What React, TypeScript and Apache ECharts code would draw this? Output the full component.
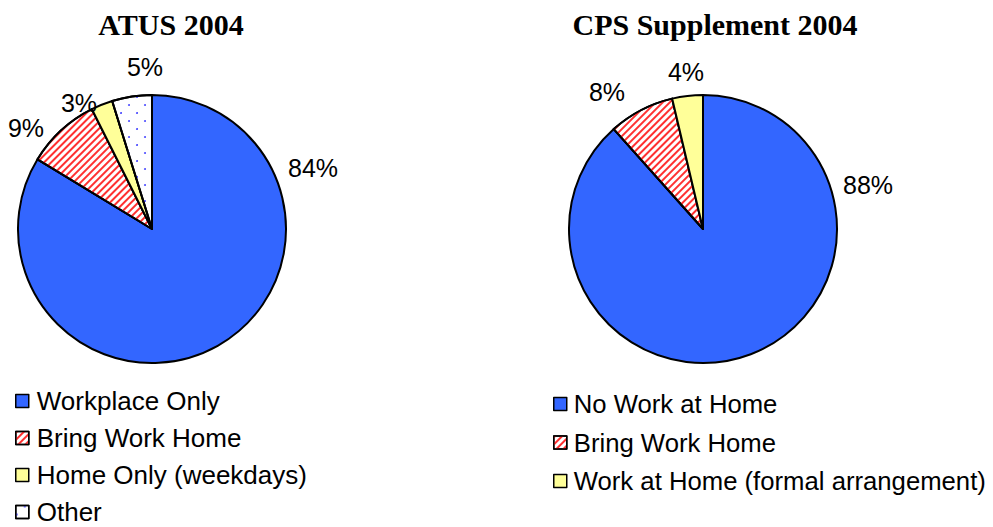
import React, { useEffect, useRef } from "react";
import * as echarts from "echarts";

const atusCategories = ["Workplace Only", "Bring Work Home", "Home Only (weekdays)", "Other"];
const atusValues = [83.7, 8.9, 2.6, 4.8];
const cpsCategories = ["No Work at Home", "Bring Work Home", "Work at Home (formal arrangement)"];
const cpsValues = [88.4, 7.9, 3.7];
const titles = ["ATUS 2004", "CPS Supplement 2004"];

// label anchor points (pixels) for each slice's percentage text
const atusLabelAnchors = [[313, 168], [26, 128], [79, 103], [145, 67]];
const cpsLabelAnchors = [[868, 185], [607, 92], [686, 72]];

const BLUE = "#3366FF";
const YELLOW = "#FFFF99";
const SANS = "'Liberation Sans', Arial, sans-serif";
const SERIF = "'Liberation Serif', 'Times New Roman', serif";

const hatchStyle = {
  color: "#ffffff",
  decal: {
    symbol: "rect",
    symbolSize: 1,
    dashArrayX: [1, 0],
    dashArrayY: [1.6, 2.4],
    rotation: -Math.PI / 4,
    color: "#ff3030",
  },
};
const dotStyle = {
  color: "#ffffff",
  decal: {
    symbol: "circle",
    symbolSize: 0.9,
    dashArrayX: [[2, 14], [0, 8, 2, 6]],
    dashArrayY: [2, 6],
    rotation: 0,
    color: "#3333ff",
  },
};

function styleFor(name: string) {
  if (name === "Bring Work Home") return hatchStyle;
  if (name === "Other") return dotStyle;
  if (name === "Home Only (weekdays)" || name === "Work at Home (formal arrangement)")
    return { color: YELLOW };
  return { color: BLUE };
}

export default function App() {
  const ref = useRef<HTMLDivElement>(null);
  useEffect(() => {
    document.body.style.margin = "0";
    const chart = echarts.init(ref.current!, null, { renderer: "svg" });
    const makeSeries = (
      cats: string[],
      vals: number[],
      center: number[],
      anchors: number[][]
    ) => ({
      type: "pie",
      center,
      radius: 134,
      startAngle: 90,
      clockwise: true,
      avoidLabelOverlap: false,
      itemStyle: { borderColor: "#000", borderWidth: 2 },
      emphasis: { disabled: true },
      label: {
        show: true,
        position: "outside",
        formatter: (p: any) => Math.round(p.value) + "%",
        fontFamily: SANS,
        fontSize: 25,
        color: "#000",
      },
      labelLine: { show: false, length: 10, length2: 0 },
      labelLayout: (p: any) => {
        const a = anchors[p.dataIndex];
        return { x: a[0], y: a[1], align: "center", verticalAlign: "middle" };
      },
      data: cats.map((c, i) => ({ name: c, value: vals[i], itemStyle: styleFor(c) })),
    });
    const legendCommon = {
      orient: "vertical",
      itemWidth: 13,
      itemHeight: 13,
      padding: 0,
      height: 150,
      icon: "rect",
      selectedMode: false,
      textStyle: {
        fontFamily: SANS,
        fontSize: 26,
        lineHeight: 26,
        color: "#000",
        padding: [0, 0, 0, 3],
      },
      itemStyle: { borderColor: "#000", borderWidth: 1.5 },
    };
    chart.setOption({
      animation: false,
      backgroundColor: "#fff",
      title: [
        {
          text: titles[0],
          left: 166,
          top: 4,
          textAlign: "center",
          textStyle: { fontFamily: SERIF, fontWeight: "bold", fontSize: 30, color: "#000" },
        },
        {
          text: titles[1],
          left: 710,
          top: 4,
          textAlign: "center",
          textStyle: { fontFamily: SERIF, fontWeight: "bold", fontSize: 30, color: "#000" },
        },
      ],
      legend: [
        { ...legendCommon, data: atusCategories, left: 15, top: 388, itemGap: 11 },
        {
          ...legendCommon,
          data: cpsCategories,
          left: 553,
          top: 391,
          itemGap: 12.5,
          textStyle: { ...legendCommon.textStyle, fontSize: 25.7, padding: [0, 0, 0, 2] },
        },
      ],
      series: [
        makeSeries(atusCategories, atusValues, [152, 229], atusLabelAnchors),
        makeSeries(cpsCategories, cpsValues, [703, 229], cpsLabelAnchors),
      ],
    });
    return () => chart.dispose();
  }, []);
  return <div ref={ref} style={{ width: 993, height: 527 }} />;
}
